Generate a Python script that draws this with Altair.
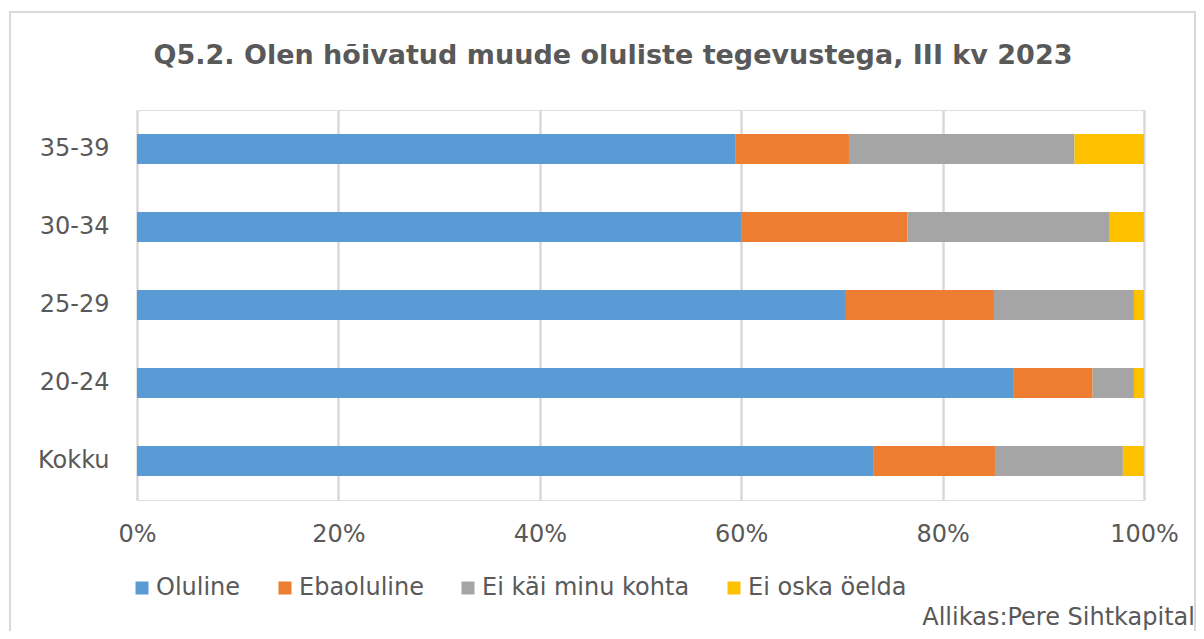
import altair as alt
import pandas as pd

categories = ["35-39", "30-34", "25-29", "20-24", "Kokku"]
series = ["Oluline", "Ebaoluline", "Ei käi minu kohta", "Ei oska öelda"]
oluline = [59.4, 60.0, 70.4, 87.0, 73.1]
ebaoluline = [11.3, 16.5, 14.7, 7.9, 12.1]
ei_kai = [22.4, 20.1, 13.9, 4.1, 12.7]
ei_oska = [6.9, 3.4, 1.0, 1.0, 2.1]
colors = ["#5B9BD5", "#ED7D31", "#A5A5A5", "#FFC000"]
x_ticks = [0, 0.2, 0.4, 0.6, 0.8, 1.0]
title_text = "Q5.2. Olen hõivatud muude oluliste tegevustega, III kv 2023"
source_text = "Allikas:Pere Sihtkapital"

FONT = "DejaVu Sans"
TXT = "#595959"

rows = []
for i, cat in enumerate(categories):
    for j, (name, vals) in enumerate(zip(series, [oluline, ebaoluline, ei_kai, ei_oska])):
        rows.append({"group": cat, "series": name, "value": vals[i], "order": j})
df = pd.DataFrame(rows)

W, H = 1007, 390

bars = alt.Chart(df).mark_bar(size=30).encode(
    y=alt.Y("group:N", sort=categories, title=None,
            axis=alt.Axis(labelFont=FONT, labelFontSize=24, labelColor=TXT,
                          ticks=False, domain=False, labelPadding=28)),
    x=alt.X("value:Q", stack="normalize", title=None,
            scale=alt.Scale(domain=[0, 1], nice=False),
            axis=alt.Axis(format="%", values=x_ticks, labelFont=FONT, labelFontSize=24,
                          labelColor=TXT, ticks=False, domain=False, labelPadding=22,
                          labelFlush=False, labelBound=False,
                          grid=True, gridColor="#d9d9d9", gridWidth=2.5)),
    color=alt.Color("series:N", sort=series,
                    scale=alt.Scale(domain=series, range=colors),
                    legend=alt.Legend(title=None, orient="none", legendX=-7, legendY=466,
                                      direction="horizontal", symbolType="square",
                                      symbolSize=169, symbolStrokeWidth=0,
                                      labelFont=FONT, labelFontSize=24, labelColor=TXT,
                                      labelLimit=0, columnPadding=32, labelOffset=2)),
    order=alt.Order("order:Q"),
)

title = alt.Chart(pd.DataFrame({"t": [title_text]})).mark_text(
    font=FONT, fontSize=27, fontWeight="bold", color=TXT, align="center", baseline="middle"
).encode(x=alt.value(476), y=alt.value(-54), text="t:N")

source = alt.Chart(pd.DataFrame({"t": [source_text]})).mark_text(
    font=FONT, fontSize=24, color=TXT, align="right", baseline="middle"
).encode(x=alt.value(1058), y=alt.value(508), text="t:N")

border = alt.Chart(pd.DataFrame({"a": [0]})).mark_rect(
    fill=None, stroke="#d9d9d9", strokeWidth=2
).encode(x=alt.value(-127), x2=alt.value(1058), y=alt.value(-98), y2=alt.value(540))

chart = alt.layer(border, bars, title, source).properties(
    width=W, height=H,
    autosize=alt.AutoSizeParams(type="none"),
    padding={"left": 129, "top": 102, "right": 52, "bottom": 131},
).configure_view(stroke=None).configure(background="white")

chart.save("out.html", embed_options={"renderer": "svg", "actions": False})
